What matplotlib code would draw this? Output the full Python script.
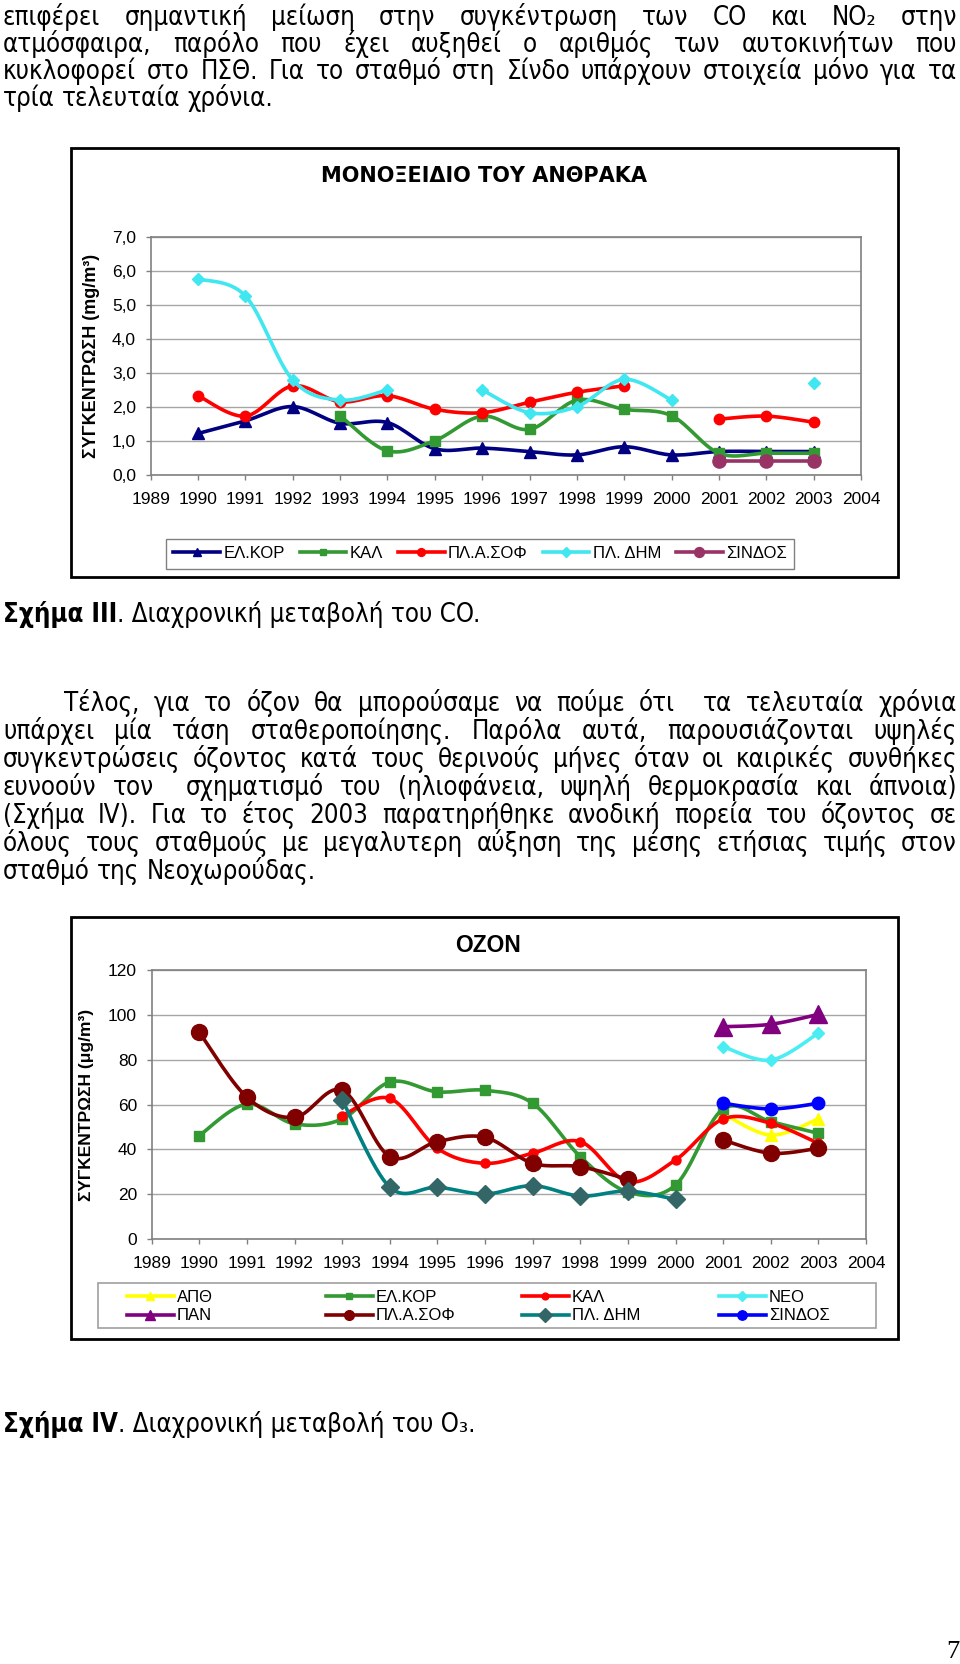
import numpy as np
import matplotlib
matplotlib.use('Agg')
import matplotlib.pyplot as plt
from matplotlib import font_manager as fm
from matplotlib.transforms import Affine2D
from matplotlib.patches import Rectangle
from matplotlib.lines import Line2D

W, H = 960, 1664
nan = np.nan

years = list(range(1989, 2005))
year_labels = [str(y) for y in years]
data_years = list(range(1990, 2004))

# --- CO, mg/m3 (1990..2003)
co_elkor = [1.22, 1.59, 2.01, 1.52, 1.54, 0.77, 0.79, 0.69, 0.59, 0.83, 0.59, 0.69, 0.69, 0.69]
co_kal = [nan, nan, nan, 1.74, 0.71, 1.01, 1.73, 1.34, 2.20, 1.93, 1.74, 0.64, 0.64, 0.64]
co_plasof = [2.33, 1.73, 2.62, 2.15, 2.33, 1.93, 1.83, 2.14, 2.43, 2.62, nan, 1.64, 1.73, 1.55]
co_pldim = [5.76, 5.26, 2.79, 2.20, 2.50, nan, 2.50, 1.83, 2.01, 2.81, 2.20, nan, nan, 2.69]
co_sindos = [nan, nan, nan, nan, nan, nan, nan, nan, nan, nan, nan, 0.42, 0.42, 0.42]
co_ticks = [0, 1, 2, 3, 4, 5, 6, 7]
co_tick_labels = ['0,0', '1,0', '2,0', '3,0', '4,0', '5,0', '6,0', '7,0']

# --- O3, ug/m3 (1990..2003)
o3_apth = [nan, nan, nan, nan, nan, nan, nan, nan, nan, nan, nan, 56.0, 46.4, 53.6]
o3_elkor = [46.2, 60.3, 51.4, 53.6, 70.1, 65.7, 66.4, 60.6, 36.8, 21.0, 24.1, 58.1, 52.4, 47.2]
o3_kal = [nan, nan, nan, 55.1, 62.8, 40.5, 33.8, 38.3, 43.5, 25.6, 35.3, 53.6, 51.7, 42.7]
o3_neo = [nan, nan, nan, nan, nan, nan, nan, nan, nan, nan, nan, 85.9, 79.9, 91.9]
o3_pan = [nan, nan, nan, nan, nan, nan, nan, nan, nan, nan, nan, 94.8, 95.9, 100.3]
o3_plasof = [92.3, 63.3, 54.3, 66.5, 36.8, 43.5, 45.4, 33.8, 32.3, 26.6, nan, 44.2, 38.3, 40.5]
o3_pldim = [nan, nan, nan, 62.1, 23.1, 23.1, 20.1, 23.8, 19.2, 21.4, 17.7, nan, nan, nan]
o3_sindos = [nan, nan, nan, nan, nan, nan, nan, nan, nan, nan, nan, 60.6, 58.1, 60.6]
o3_ticks = [0, 20, 40, 60, 80, 100, 120]
o3_tick_labels = ['0', '20', '40', '60', '80', '100', '120']

para1 = [
    "επιφέρει σημαντική μείωση στην συγκέντρωση των CO και NO₂ στην",
    "ατμόσφαιρα, παρόλο που έχει αυξηθεί ο αριθμός των αυτοκινήτων που",
    "κυκλοφορεί στο ΠΣΘ. Για το σταθμό στη Σίνδο υπάρχουν στοιχεία μόνο για τα",
    "τρία τελευταία χρόνια.",
]
para2 = [
    "Τέλος, για το όζον θα μπορούσαμε να πούμε ότι  τα τελευταία χρόνια",
    "υπάρχει μία τάση σταθεροποίησης. Παρόλα αυτά, παρουσιάζονται υψηλές",
    "συγκεντρώσεις όζοντος κατά τους θερινούς μήνες όταν οι καιρικές συνθήκες",
    "ευνοούν τον  σχηματισμό του (ηλιοφάνεια, υψηλή θερμοκρασία και άπνοια)",
    "(Σχήμα IV). Για το έτος 2003 παρατηρήθηκε ανοδική πορεία του όζοντος σε",
    "όλους τους σταθμούς με μεγαλυτερη αύξηση της μέσης ετήσιας τιμής στον",
    "σταθμό της Νεοχωρούδας.",
]

CHART = ['Liberation Sans', 'DejaVu Sans']
plt.rcParams['font.family'] = CHART

# body text: narrow Verdana-like face if there is one
BODY = ['DejaVu Sans']
STRETCH = 'normal'
try:
    p = fm.findfont(fm.FontProperties(family='DejaVu Sans', stretch='condensed'),
                    fallback_to_default=False)
    if 'Condensed' in p:
        STRETCH = 'condensed'
except Exception:
    pass

fig = plt.figure(figsize=(W / 100, H / 100), dpi=100)
T = Affine2D().scale(1, -1).translate(0, H)  # pixel coords, top-left origin
renderer = fig.canvas.get_renderer()


def put(x, y, s, **kw):
    kw.setdefault('va', 'baseline')
    return fig.text(x, y, s, transform=T, **kw)


def body(x, y, s, size, **kw):
    return put(x, y, s, fontsize=size, family=BODY, fontstretch=STRETCH, **kw)


def width(t):
    return t.get_window_extent(renderer).width


def smooth(xs, ys, n=16):
    # excel style smoothed line (bezier through the points)
    xs = np.asarray(xs, float)
    ys = np.asarray(ys, float)
    ox, oy = [], []
    good = np.flatnonzero(~np.isnan(ys))
    runs = np.split(good, np.flatnonzero(np.diff(good) > 1) + 1)
    t = np.linspace(0, 1, n)[:, None]
    for r in runs:
        if len(r) < 2:
            continue
        P = np.column_stack([xs[r], ys[r]])
        for i in range(len(P) - 1):
            a = P[max(i - 1, 0)]
            b = P[i]
            c = P[i + 1]
            d = P[min(i + 2, len(P) - 1)]
            c1 = b + (c - a) / 6
            c2 = c - (d - b) / 6
            seg = (1 - t) ** 3 * b + 3 * (1 - t) ** 2 * t * c1 + 3 * (1 - t) * t ** 2 * c2 + t ** 3 * c
            ox.extend(seg[:, 0])
            oy.extend(seg[:, 1])
        ox.append(nan)
        oy.append(nan)
    return np.array(ox), np.array(oy)


def add_axes_px(l, t, r, b):
    return fig.add_axes([l / W, 1 - b / H, (r - l) / W, (b - t) / H])


def style_axes(ax, ylim, ticks, labels):
    ax.set_xlim(1989, 2004)
    ax.set_ylim(*ylim)
    ax.set_xticks(years)
    ax.set_xticklabels(year_labels)
    ax.set_yticks(ticks)
    ax.set_yticklabels(labels)
    ax.tick_params(axis='x', direction='out', length=3.5, width=1, color='#808080',
                   pad=9, labelsize=12.5)
    ax.tick_params(axis='y', direction='out', length=3.5, width=1, color='#808080',
                   pad=7, labelsize=12.5)
    for s in ax.spines.values():
        s.set_color('#808080')
        s.set_linewidth(1.2)
    ax.yaxis.grid(True, color='#A6A6A6', lw=1)
    ax.set_axisbelow(True)


def draw_series(ax, vals, color, mcolor, marker, ms, z, lw=2.6):
    cx, cy = smooth(data_years, vals)
    ax.plot(cx, cy, color=color, lw=lw, solid_capstyle='round', zorder=z)
    ax.plot(data_years, vals, ls='none', marker=marker, ms=ms, mfc=mcolor, mec=mcolor,
            zorder=z + 0.5)
    return Line2D([], [], color=color, lw=lw, marker=marker, ms=ms * 0.75, mfc=mcolor, mec=mcolor)


# ---------------- body text ----------------
def para_line(s, y, x0, x1, size, justify=True):
    tokens = s.split(' ')
    words, gaps = [], []
    cnt = 0
    for tok in tokens:
        if tok == '':
            cnt += 1
            continue
        if words:
            gaps.append(cnt + 1)
        words.append(tok)
        cnt = 0
    ts = [body(x0, y, w, size) for w in words]
    ws = [width(t) for t in ts]
    if justify and gaps:
        unit = (x1 - x0 - sum(ws)) / sum(gaps)
    else:
        unit = 0.28 * size * 100 / 72
    x = x0
    for i, (t, w) in enumerate(zip(ts, ws)):
        t.set_x(x)
        if i < len(gaps):
            x += w + gaps[i] * unit


# body size: the tightest justified lines fill the text width
probe = body(0, 0, para1[2], 10)
probe2 = body(0, 0, para2[2], 10)
fit = min(10 * 954 / width(probe), 10 * 954 / width(probe2))
probe.remove()
probe2.remove()
body_size = fit * (0.96 if STRETCH == 'condensed' else 1.0)

X0, X1 = 3, 957
for i, (line, y) in enumerate(zip(para1, [25, 52, 79, 106])):
    para_line(line, y, X0, X1, body_size, justify=i < len(para1) - 1)

for i, (line, y) in enumerate(zip(para2, [710.7, 738.8, 766.9, 795, 823.1, 851.2, 879.3])):
    para_line(line, y, 64 if i == 0 else X0, X1, body_size, justify=i < len(para2) - 1)


def caption(y, bold, rest):
    b = body(X0, y, bold, body_size, weight='bold')
    body(X0 + width(b), y, rest, body_size)


caption(621.7, "Σχήμα III", ". Διαχρονική μεταβολή του CO.")
caption(1431.7, "Σχήμα IV", ". Διαχρονική μεταβολή του O₃.")
put(959, 1663, "7", fontsize=19, family=['Liberation Serif', 'DejaVu Serif'],
    ha='right', va='bottom')

# ---------------- chart III : CO ----------------
fig.patches.append(Rectangle((71, 148.3), 826.5, 429, transform=T, fill=False,
                             ec='black', lw=2, zorder=0))
ax1 = add_axes_px(150.7, 236.7, 861, 475)
style_axes(ax1, (0, 7), co_ticks, co_tick_labels)
h1 = [
    draw_series(ax1, co_elkor, '#000080', '#000080', '^', 8.5, 3),
    draw_series(ax1, co_kal, '#339933', '#339933', 's', 6.5, 4),
    draw_series(ax1, co_plasof, '#FF0000', '#FF0000', 'o', 7.5, 5),
    draw_series(ax1, co_pldim, '#40E6F0', '#40E6F0', 'D', 6.5, 6),
    draw_series(ax1, co_sindos, '#993366', '#993366', 'o', 9.5, 7),
]
title1 = put(484, 181.7, "ΜΟΝΟΞΕΙΔΙΟ ΤΟΥ ΑΝΘΡΑΚΑ", fontsize=10, weight='bold',
             ha='center', family=['DejaVu Sans'])
title1.set_fontsize(10 * 328 / width(title1))
put(91.5, 356, "ΣΥΓΚΕΝΤΡΩΣΗ (mg/m³)", fontsize=13, weight='bold', ha='center',
    va='center', rotation=90)
fig.legend(h1, ["ΕΛ.ΚΟΡ", "ΚΑΛ", "ΠΛ.Α.ΣΟΦ", "ΠΛ. ΔΗΜ", "ΣΙΝΔΟΣ"], ncol=5,
           loc='center', bbox_to_anchor=(480, 553.5), bbox_transform=T,
           fontsize=12, handlelength=2.8, handletextpad=0.2, columnspacing=0.9,
           borderpad=0.45, fancybox=False, edgecolor='#808080', framealpha=1)

# ---------------- chart IV : O3 ----------------
fig.patches.append(Rectangle((71, 917), 826.5, 422, transform=T, fill=False,
                             ec='black', lw=2, zorder=0))
ax2 = add_axes_px(151.7, 970.3, 866, 1239)
style_axes(ax2, (0, 120), o3_ticks, o3_tick_labels)
h_apth = draw_series(ax2, o3_apth, '#FFFF00', '#FFFF00', '^', 8, 3)
h_elkor = draw_series(ax2, o3_elkor, '#339933', '#339933', 's', 6.5, 4)
h_kal = draw_series(ax2, o3_kal, '#FF0000', '#FF0000', 'o', 6.5, 5)
h_neo = draw_series(ax2, o3_neo, '#4AEEF2', '#4AEEF2', 'D', 6.5, 6)
h_pan = draw_series(ax2, o3_pan, '#800080', '#800080', '^', 12.5, 7)
h_plasof = draw_series(ax2, o3_plasof, '#800000', '#800000', 'o', 11.5, 8)
h_pldim = draw_series(ax2, o3_pldim, '#008080', '#336666', 'D', 9, 9)
h_sindos = draw_series(ax2, o3_sindos, '#0000FF', '#0000FF', 'o', 9, 10)
for h in (h_pan, h_plasof, h_pldim):
    h.set_markersize(7)
put(487.5, 952.3, "OZON", fontsize=16.5, weight='bold', ha='center')
put(86.7, 1105, "ΣΥΓΚΕΝΤΡΩΣΗ (μg/m³)", fontsize=12.5, weight='bold', ha='center',
    va='center', rotation=90)

fig.patches.append(Rectangle((98, 1283), 778, 45, transform=T, fill=False,
                             ec='#A0A0A0', lw=1.2, zorder=1))
columns = [
    (127, [h_apth, h_pan], ["ΑΠΘ", "ΠΑΝ"]),
    (326, [h_elkor, h_plasof], ["ΕΛ.ΚΟΡ", "ΠΛ.Α.ΣΟΦ"]),
    (522, [h_kal, h_pldim], ["ΚΑΛ", "ΠΛ. ΔΗΜ"]),
    (719, [h_neo, h_sindos], ["ΝΕΟ", "ΣΙΝΔΟΣ"]),
]
for x, hs, labels in columns:
    fig.legend(hs, labels, loc='center left', bbox_to_anchor=(x, 1306.5),
               bbox_transform=T, fontsize=12, handlelength=2.8, handletextpad=0.2,
               labelspacing=0.22, borderpad=0, borderaxespad=0, frameon=False)

fig.savefig('out.png', dpi=100)
